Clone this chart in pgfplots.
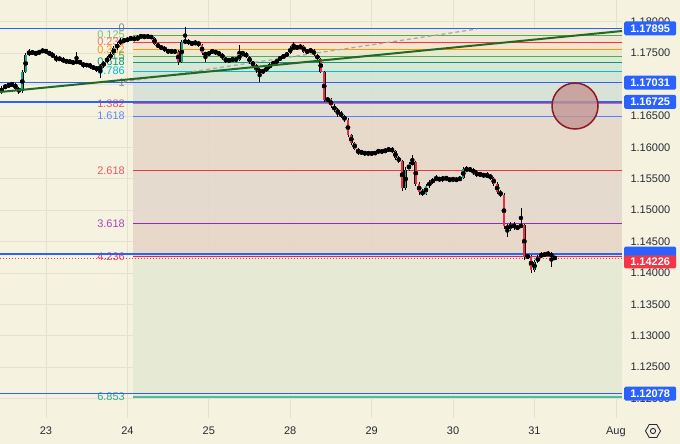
\documentclass[border=0pt]{standalone}
\usepackage{pgfplots}
\pgfplotsset{compat=1.18}
\usepackage{pgfplotstable}
\usepackage{fontspec}
\setmainfont{Liberation Sans}
\usetikzlibrary{shapes.geometric}

\definecolor{bg}{RGB}{245,242,223}
\definecolor{gridc}{RGB}{229,225,207}
\definecolor{labc}{RGB}{40,44,56}
\definecolor{tvblue}{RGB}{41,98,255}
\definecolor{tvred}{RGB}{242,54,69}
\definecolor{upc}{RGB}{18,165,135}
\definecolor{dnc}{RGB}{235,45,60}
\definecolor{trend}{RGB}{35,105,35}
\definecolor{fgray}{RGB}{130,133,140}
\definecolor{fgreen}{RGB}{76,175,80}
\definecolor{fgreenl}{RGB}{120,195,120}
\definecolor{forange}{RGB}{255,152,0}
\definecolor{fteal}{RGB}{8,153,129}
\definecolor{fcyan}{RGB}{0,188,212}
\definecolor{fpurple}{RGB}{156,39,176}
\definecolor{fpink}{RGB}{233,30,99}
\definecolor{Ra}{RGB}{240,234,214}
\definecolor{Rb}{RGB}{242,228,212}
\definecolor{Rc}{RGB}{243,228,205}
\definecolor{Rd}{RGB}{232,234,208}
\definecolor{Re}{RGB}{220,233,208}
\definecolor{Rf}{RGB}{212,230,210}
\definecolor{Rg}{RGB}{210,228,214}
\definecolor{Rh}{RGB}{213,225,214}
\definecolor{Ri}{RGB}{224,220,210}
\definecolor{Rj}{RGB}{230,216,200}
\definecolor{Rk}{RGB}{228,216,205}
\definecolor{Rl}{RGB}{230,214,200}
\definecolor{Rm}{RGB}{229,234,212}

\pgfplotstableread{
x o h l c
-13 1.16882 1.16978 1.16850 1.16946
-12 1.16946 1.17009 1.16930 1.16978
-11 1.16978 1.17025 1.16962 1.16993
-10 1.16993 1.17041 1.16978 1.17009
-9 1.17009 1.17025 1.16914 1.16930
-8 1.16930 1.16962 1.16850 1.16898
-7 1.16898 1.17232 1.16866 1.17200
-6 1.17200 1.17503 1.17185 1.17471
-5 1.17471 1.17567 1.17455 1.17535
-4 1.17535 1.17551 1.17471 1.17487
-3 1.17487 1.17535 1.17471 1.17503
-2 1.17503 1.17551 1.17487 1.17519
-1 1.17519 1.17583 1.17503 1.17551
0 1.17551 1.17567 1.17487 1.17519
1 1.17519 1.17535 1.17455 1.17487
2 1.17487 1.17519 1.17423 1.17439
3 1.17439 1.17471 1.17360 1.17392
4 1.17392 1.17455 1.17376 1.17423
5 1.17423 1.17439 1.17344 1.17360
6 1.17360 1.17407 1.17344 1.17376
7 1.17376 1.17392 1.17328 1.17360
8 1.17360 1.17392 1.17312 1.17344
9 1.17344 1.17519 1.17328 1.17376
10 1.17376 1.17392 1.17312 1.17344
11 1.17344 1.17360 1.17264 1.17296
12 1.17296 1.17344 1.17280 1.17328
13 1.17328 1.17344 1.17248 1.17280
14 1.17280 1.17312 1.17232 1.17264
15 1.17264 1.17296 1.17200 1.17248
16 1.17248 1.17328 1.17105 1.17296
17 1.17296 1.17376 1.17264 1.17360
18 1.17360 1.17455 1.17344 1.17423
19 1.17423 1.17519 1.17392 1.17487
20 1.17487 1.17615 1.17471 1.17583
21 1.17583 1.17678 1.17551 1.17646
22 1.17646 1.17742 1.17630 1.17710
23 1.17710 1.17742 1.17662 1.17694
24 1.17694 1.17758 1.17678 1.17726
25 1.17726 1.17774 1.17710 1.17742
26 1.17742 1.17774 1.17694 1.17710
27 1.17710 1.17790 1.17694 1.17758
28 1.17758 1.17806 1.17742 1.17774
29 1.17774 1.17790 1.17726 1.17758
30 1.17758 1.17790 1.17742 1.17774
31 1.17774 1.17790 1.17726 1.17742
32 1.17742 1.17758 1.17630 1.17646
33 1.17646 1.17662 1.17583 1.17599
34 1.17599 1.17630 1.17551 1.17583
35 1.17583 1.17615 1.17519 1.17551
36 1.17551 1.17567 1.17487 1.17519
37 1.17519 1.17567 1.17503 1.17535
38 1.17535 1.17567 1.17487 1.17519
39 1.17519 1.17551 1.17312 1.17360
40 1.17360 1.17710 1.17344 1.17678
41 1.17678 1.17917 1.17646 1.17694
42 1.17694 1.17726 1.17630 1.17662
43 1.17662 1.17694 1.17615 1.17646
44 1.17646 1.17710 1.17630 1.17678
45 1.17678 1.17694 1.17599 1.17630
46 1.17630 1.17646 1.17471 1.17503
47 1.17503 1.17519 1.17360 1.17471
48 1.17471 1.17535 1.17455 1.17519
49 1.17519 1.17567 1.17503 1.17535
50 1.17535 1.17551 1.17471 1.17503
51 1.17503 1.17535 1.17455 1.17487
52 1.17487 1.17503 1.17392 1.17423
53 1.17423 1.17439 1.17344 1.17376
54 1.17376 1.17423 1.17360 1.17392
55 1.17392 1.17439 1.17376 1.17407
56 1.17407 1.17439 1.17360 1.17392
57 1.17392 1.17630 1.17376 1.17487
58 1.17487 1.17535 1.17471 1.17503
59 1.17503 1.17519 1.17423 1.17439
60 1.17439 1.17455 1.17328 1.17360
61 1.17360 1.17376 1.17280 1.17312
62 1.17312 1.17328 1.17185 1.17232
63 1.17232 1.17264 1.17041 1.17200
64 1.17200 1.17248 1.17169 1.17232
65 1.17232 1.17296 1.17200 1.17264
66 1.17264 1.17344 1.17248 1.17328
67 1.17328 1.17376 1.17312 1.17344
68 1.17344 1.17407 1.17328 1.17392
69 1.17392 1.17455 1.17376 1.17439
70 1.17439 1.17471 1.17423 1.17455
71 1.17455 1.17519 1.17439 1.17503
72 1.17503 1.17615 1.17487 1.17583
73 1.17583 1.17678 1.17567 1.17599
74 1.17599 1.17630 1.17551 1.17583
75 1.17583 1.17646 1.17567 1.17615
76 1.17615 1.17630 1.17503 1.17519
77 1.17519 1.17567 1.17487 1.17535
78 1.17535 1.17583 1.17503 1.17551
79 1.17551 1.17567 1.17455 1.17471
80 1.17471 1.17487 1.17392 1.17407
81 1.17407 1.17423 1.17185 1.17200
82 1.17200 1.17216 1.16723 1.16754
83 1.16754 1.16802 1.16723 1.16770
84 1.16770 1.16786 1.16627 1.16659
85 1.16659 1.16691 1.16563 1.16595
86 1.16595 1.16627 1.16484 1.16548
87 1.16548 1.16579 1.16468 1.16500
88 1.16500 1.16516 1.16404 1.16436
89 1.16436 1.16468 1.16166 1.16197
90 1.16197 1.16213 1.16038 1.16070
91 1.16070 1.16086 1.15959 1.15975
92 1.15975 1.15990 1.15879 1.15911
93 1.15911 1.15959 1.15895 1.15927
94 1.15927 1.15943 1.15863 1.15895
95 1.15895 1.15943 1.15879 1.15911
96 1.15911 1.15927 1.15879 1.15895
97 1.15895 1.15943 1.15879 1.15927
98 1.15927 1.15975 1.15911 1.15943
99 1.15943 1.15975 1.15895 1.15927
100 1.15927 1.15990 1.15911 1.15959
101 1.15959 1.16006 1.15927 1.15975
102 1.15975 1.16006 1.15911 1.15943
103 1.15943 1.15959 1.15799 1.15831
104 1.15831 1.15863 1.15752 1.15783
105 1.15783 1.15799 1.15306 1.15353
106 1.15353 1.15688 1.15322 1.15640
107 1.15640 1.15767 1.15624 1.15736
108 1.15736 1.15879 1.15720 1.15767
109 1.15767 1.15783 1.15385 1.15417
110 1.15417 1.15449 1.15242 1.15290
111 1.15290 1.15338 1.15226 1.15258
112 1.15258 1.15417 1.15242 1.15385
113 1.15385 1.15481 1.15353 1.15449
114 1.15449 1.15513 1.15417 1.15481
115 1.15481 1.15560 1.15465 1.15513
116 1.15513 1.15529 1.15449 1.15481
117 1.15481 1.15545 1.15449 1.15529
118 1.15529 1.15545 1.15465 1.15497
119 1.15497 1.15513 1.15449 1.15481
120 1.15481 1.15529 1.15465 1.15497
121 1.15497 1.15513 1.15449 1.15481
122 1.15481 1.15545 1.15465 1.15513
123 1.15513 1.15688 1.15497 1.15656
124 1.15656 1.15704 1.15608 1.15640
125 1.15640 1.15688 1.15608 1.15656
126 1.15656 1.15672 1.15560 1.15592
127 1.15592 1.15640 1.15529 1.15560
128 1.15560 1.15608 1.15545 1.15576
129 1.15576 1.15592 1.15513 1.15545
130 1.15545 1.15608 1.15513 1.15560
131 1.15560 1.15576 1.15481 1.15513
132 1.15513 1.15529 1.15385 1.15417
133 1.15417 1.15449 1.15258 1.15290
134 1.15290 1.15322 1.15210 1.15242
135 1.15242 1.15274 1.14701 1.14748
136 1.14748 1.14780 1.14573 1.14701
137 1.14701 1.14812 1.14669 1.14780
138 1.14780 1.14812 1.14685 1.14717
139 1.14717 1.14764 1.14685 1.14732
140 1.14732 1.15035 1.14717 1.14764
141 1.14764 1.14780 1.14207 1.14255
142 1.14255 1.14302 1.14223 1.14271
143 1.14271 1.14287 1.14000 1.14048
144 1.14048 1.14207 1.14016 1.14175
145 1.14175 1.14287 1.14159 1.14255
146 1.14255 1.14334 1.14239 1.14302
147 1.14302 1.14334 1.14255 1.14287
148 1.14287 1.14350 1.14271 1.14318
149 1.14318 1.14334 1.14095 1.14255
150 1.14255 1.14271 1.14207 1.14226
}\candles

\begin{document}
\begin{tikzpicture}
\fill[bg] (0,-26pt) rectangle (680pt,418pt);
\begin{axis}[
  at={(0,0)}, anchor=south west,
  scale only axis, width=622pt, height=418pt,
  xmin=-13.56, xmax=169.8, ymin=1.11691, ymax=1.18347,
  clip mode=individual,
  axis line style={draw=none},
  tick style={draw=none},
  grid=major, grid style={gridc, line width=0.7pt},
  xtick={0,24,48,72,96,120,144,168},
  xticklabels={23,24,25,28,29,30,31,Aug},
  ytick={1.120,1.125,1.130,1.135,1.140,1.145,1.150,1.155,1.160,1.165,1.170,1.175,1.180},
  yticklabels={1.12000,1.12500,1.13000,1.13500,1.14000,1.14500,1.15000,1.15500,1.16000,1.16500,{},1.17500,1.18000},
  yticklabel pos=right,
  ticklabel style={font=\fontsize{11}{13}\selectfont, text=labc},
  yticklabel style={xshift=5pt},
  xticklabel style={yshift=-5pt},
]
% fib fills
\addplot[draw=none, fill=Ra, fill opacity=0.9, forget plot] coordinates {(25.65,1.17895) (169.8,1.17895) (169.8,1.17790) (25.65,1.17790)};
\addplot[draw=none, fill=Rb, fill opacity=0.9, forget plot] coordinates {(25.65,1.17790) (169.8,1.17790) (169.8,1.17678) (25.65,1.17678)};
\addplot[draw=none, fill=Rc, fill opacity=0.9, forget plot] coordinates {(25.65,1.17678) (169.8,1.17678) (169.8,1.17559) (25.65,1.17559)};
\addplot[draw=none, fill=Rd, fill opacity=0.9, forget plot] coordinates {(25.65,1.17559) (169.8,1.17559) (169.8,1.17455) (25.65,1.17455)};
\addplot[draw=none, fill=Re, fill opacity=0.9, forget plot] coordinates {(25.65,1.17455) (169.8,1.17455) (169.8,1.17360) (25.65,1.17360)};
\addplot[draw=none, fill=Rf, fill opacity=0.9, forget plot] coordinates {(25.65,1.17360) (169.8,1.17360) (169.8,1.17216) (25.65,1.17216)};
\addplot[draw=none, fill=Rg, fill opacity=0.9, forget plot] coordinates {(25.65,1.17216) (169.8,1.17216) (169.8,1.17031) (25.65,1.17031)};
\addplot[draw=none, fill=Rh, fill opacity=0.9, forget plot] coordinates {(25.65,1.17031) (169.8,1.17031) (169.8,1.16699) (25.65,1.16699)};
\addplot[draw=none, fill=Ri, fill opacity=0.9, forget plot] coordinates {(25.65,1.16699) (169.8,1.16699) (169.8,1.16500) (25.65,1.16500)};
\addplot[draw=none, fill=Rj, fill opacity=0.9, forget plot] coordinates {(25.65,1.16500) (169.8,1.16500) (169.8,1.15632) (25.65,1.15632)};
\addplot[draw=none, fill=Rk, fill opacity=0.9, forget plot] coordinates {(25.65,1.15632) (169.8,1.15632) (169.8,1.14791) (25.65,1.14791)};
\addplot[draw=none, fill=Rl, fill opacity=0.9, forget plot] coordinates {(25.65,1.14791) (169.8,1.14791) (169.8,1.14266) (25.65,1.14266)};
\addplot[draw=none, fill=Rm, fill opacity=0.9, forget plot] coordinates {(25.65,1.14266) (169.8,1.14266) (169.8,1.12025) (25.65,1.12025)};
% fib level lines
\addplot[fgreen, line width=0.9pt, forget plot] coordinates {(25.65,1.17790) (169.8,1.17790)};
\addplot[tvred, line width=0.9pt, forget plot] coordinates {(25.65,1.17678) (169.8,1.17678)};
\addplot[forange, line width=0.9pt, forget plot] coordinates {(25.65,1.17559) (169.8,1.17559)};
\addplot[fgreen, line width=0.9pt, forget plot] coordinates {(25.65,1.17455) (169.8,1.17455)};
\addplot[fteal, line width=0.9pt, forget plot] coordinates {(25.65,1.17360) (169.8,1.17360)};
\addplot[fcyan, line width=0.9pt, forget plot] coordinates {(25.65,1.17216) (169.8,1.17216)};
\addplot[tvred!80, line width=1.1pt, forget plot] coordinates {(25.65,1.16699) (169.8,1.16699)};
\addplot[tvblue!80, line width=0.9pt, forget plot] coordinates {(25.65,1.16500) (169.8,1.16500)};
\addplot[tvred, line width=0.9pt, forget plot] coordinates {(25.65,1.15632) (169.8,1.15632)};
\addplot[fpurple, line width=0.9pt, forget plot] coordinates {(25.65,1.14791) (169.8,1.14791)};
\addplot[fpink, line width=0.9pt, forget plot] coordinates {(25.65,1.14266) (169.8,1.14266)};
\addplot[fteal!70, line width=1.6pt, forget plot] coordinates {(25.65,1.12025) (169.8,1.12025)};
% fib labels
\begin{scope}[every node/.style={anchor=east, inner sep=0pt, font=\fontsize{11}{13}\selectfont}]
\node[text=fgray] at (axis cs:23.29,1.17905) {0};
\node[text=fgreenl] at (axis cs:23.29,1.17790) {0.125};
\node[text=tvred!70] at (axis cs:23.29,1.17678) {0.236};
\node[text=forange] at (axis cs:23.29,1.17559) {0.382};
\node[text=fgreen] at (axis cs:23.29,1.17455) {0.5};
\node[text=fteal] at (axis cs:23.29,1.17360) {0.618};
\node[text=fcyan] at (axis cs:23.29,1.17216) {0.786};
\node[text=fgray] at (axis cs:23.29,1.17031) {1};
\node[text=tvred!85] at (axis cs:23.29,1.16699) {1.382};
\node[text=tvblue!75] at (axis cs:23.29,1.16500) {1.618};
\node[text=tvred!85] at (axis cs:23.29,1.15632) {2.618};
\node[text=fpurple!85] at (axis cs:23.29,1.14791) {3.618};
\node[text=fpink!85] at (axis cs:23.29,1.14266) {4.236};
\node[text=fteal!85] at (axis cs:23.29,1.12025) {6.853};
\end{scope}
% horizontal blue lines
\addplot[tvblue, line width=1.5pt, forget plot] coordinates {(-13.56,1.17895) (169.8,1.17895)};
\addplot[tvblue, line width=1.5pt, forget plot] coordinates {(-13.56,1.17031) (169.8,1.17031)};
\addplot[tvblue, line width=1.5pt, forget plot] coordinates {(-13.56,1.16725) (169.8,1.16725)};
\addplot[tvblue, line width=1.5pt, forget plot] coordinates {(-13.56,1.14302) (169.8,1.14302)};
\addplot[tvblue, line width=1.5pt, forget plot] coordinates {(-13.56,1.12078) (169.8,1.12078)};
% dashed fib trend line
\addplot[gray!70, line width=1.2pt, dash pattern=on 4pt off 3pt, forget plot] coordinates {(22.7,1.17041) (127.1,1.17885)};
% current price line
\addplot[tvred, line width=0.8pt, dash pattern=on 1pt off 2pt, forget plot] coordinates {(-13.56,1.14226) (169.8,1.14226)};
% candles: wicks
\addplot[only marks, mark=none, forget plot,
  error bars/.cd, y dir=both, y explicit, error mark=none,
  error bar style={draw=black, line width=0.8pt}]
  table[x=x, y expr={(\thisrow{h}+\thisrow{l})/2}, y error expr={(\thisrow{h}-\thisrow{l})/2}] {\candles};
% body outlines
\addplot[only marks, mark=none, forget plot,
  error bars/.cd, y dir=both, y explicit, error mark=none,
  error bar style={draw=black, line width=2.7pt}]
  table[x=x, y expr={(\thisrow{o}+\thisrow{c})/2}, y error expr={abs(\thisrow{o}-\thisrow{c})/2+0.00004}] {\candles};
% up bodies
\addplot[only marks, mark=none, forget plot,
  restrict expr to domain={\thisrow{c}-\thisrow{o}}{0:1},
  error bars/.cd, y dir=both, y explicit, error mark=none,
  error bar style={draw=upc, line width=1.8pt}]
  table[x=x, y expr={(\thisrow{o}+\thisrow{c})/2}, y error expr={abs(\thisrow{o}-\thisrow{c})/2}] {\candles};
% down bodies
\addplot[only marks, mark=none, forget plot,
  restrict expr to domain={\thisrow{c}-\thisrow{o}}{-1:0},
  error bars/.cd, y dir=both, y explicit, error mark=none,
  error bar style={draw=dnc, line width=1.8pt}]
  table[x=x, y expr={(\thisrow{o}+\thisrow{c})/2}, y error expr={abs(\thisrow{o}-\thisrow{c})/2}] {\candles};
% green trendline
\addplot[trend, line width=2pt, forget plot] coordinates {(-13.56,1.16882) (169.8,1.17853)};
% circle
\draw[draw={rgb,255:red,140;green,25;blue,35}, line width=1.5pt, fill={rgb,255:red,196;green,150;blue,148}, fill opacity=0.8] (axis cs:155.95,1.16659) circle[radius=23pt];
% anchors for price boxes
\coordinate (p1) at (axis cs:169.8,1.17895);
\coordinate (p2) at (axis cs:169.8,1.17031);
\coordinate (p3) at (axis cs:169.8,1.16725);
\coordinate (p4) at (axis cs:169.8,1.14302);
\coordinate (p5) at (axis cs:169.8,1.14226);
\coordinate (p6) at (axis cs:169.8,1.12078);
\end{axis}
\begin{scope}[every node/.style={anchor=west, inner sep=0pt, minimum width=52pt, minimum height=14pt, rounded corners=1.5pt, text=white, font=\fontsize{11}{13}\selectfont\bfseries}]
\node[fill=tvblue] at ([xshift=2pt]p1) {1.17895};
\node[fill=tvblue] at ([xshift=2pt]p2) {1.17031};
\node[fill=tvblue] at ([xshift=2pt]p3) {1.16725};
\node[fill=tvblue] at ([xshift=2pt,yshift=0.5pt]p4) {};
\node[fill=tvred, minimum height=13pt] at ([xshift=2pt,yshift=-3.2pt]p5) {1.14226};
\node[fill=tvblue] at ([xshift=2pt]p6) {1.12078};
\end{scope}
\node[draw=labc, regular polygon, regular polygon sides=6, minimum size=15pt, inner sep=0pt, line width=0.9pt] at (653pt,-13pt) {};
\draw[labc, line width=0.9pt] (653pt,-13pt) circle[radius=2.6pt];
\pgfresetboundingbox
\path[use as bounding box] (0,-26pt) rectangle (680pt,418pt);
\end{tikzpicture}
\end{document}
